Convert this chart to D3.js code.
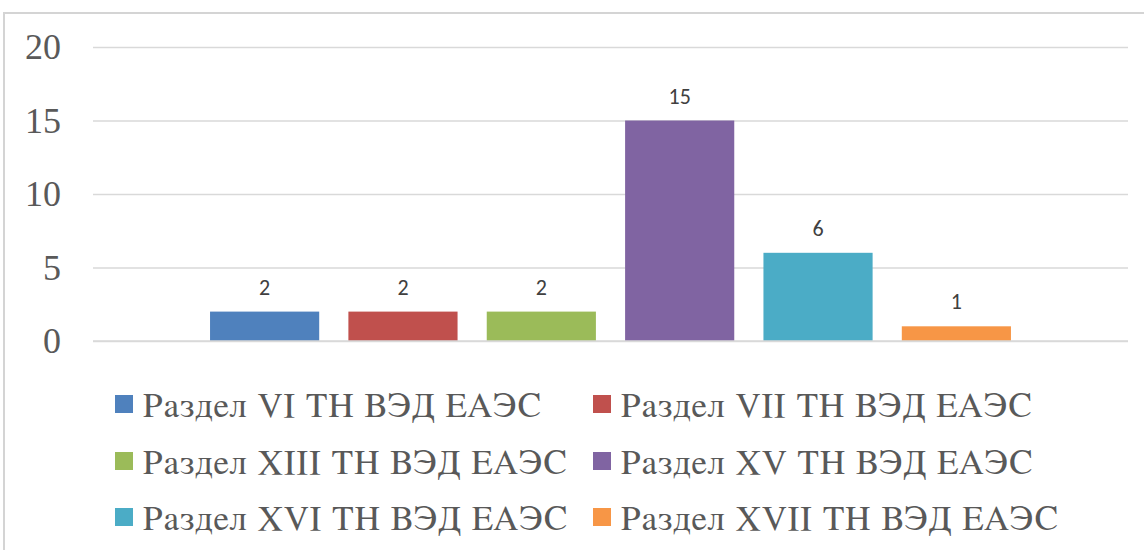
<!DOCTYPE html>
<html>
<head>
<meta charset="utf-8">
<script src="https://cdn.jsdelivr.net/npm/d3@7"></script>
<style>
  html, body { margin: 0; padding: 0; background: #fff; }
  svg { display: block; }
</style>
</head>
<body>
<svg id="chart" width="1144" height="550"></svg>
<script>
const categories = [
  "Раздел VI ТН ВЭД ЕАЭС",
  "Раздел VII ТН ВЭД ЕАЭС",
  "Раздел XIII ТН ВЭД ЕАЭС",
  "Раздел XV ТН ВЭД ЕАЭС",
  "Раздел XVI ТН ВЭД ЕАЭС",
  "Раздел XVII ТН ВЭД ЕАЭС"
];
const values = [2, 2, 2, 15, 6, 1];
const colors = ["#4F81BD", "#C0504D", "#9BBB59", "#8064A2", "#4BACC6", "#F79646"];
const yTicks = [0, 5, 10, 15, 20];

const svg = d3.select("#chart");

// chart border
svg.append("rect")
  .attr("x", 4).attr("y", 13)
  .attr("width", 1200).attr("height", 600)
  .attr("fill", "none")
  .attr("stroke", "#d4d4d4")
  .attr("stroke-width", 2);

const plotLeft = 93, plotRight = 1128;
const y = d3.scaleLinear().domain([0, 20]).range([341, 47]);
const x = d3.scaleBand().domain(categories).range([plotLeft, plotRight])
  .paddingInner(0.211).paddingOuter(0.846);

// gridlines + tick labels
const yAxis = d3.axisLeft(y).tickValues(yTicks).tickSize(-(plotRight - plotLeft)).tickPadding(32);
const gy = svg.append("g").attr("transform", `translate(${plotLeft},0)`).call(yAxis);
gy.select(".domain").remove();
gy.selectAll(".tick line").attr("stroke", "#d9d9d9").attr("stroke-width", 1.6);
gy.selectAll(".tick text")
  .attr("font-family", "'Liberation Serif', 'Times New Roman', serif")
  .attr("font-size", 36)
  .attr("fill", "#595959");

// bars
svg.append("g").selectAll("rect").data(categories).join("rect")
  .attr("x", d => x(d))
  .attr("width", x.bandwidth())
  .attr("y", (d, i) => y(values[i]))
  .attr("height", (d, i) => y(0) - y(values[i]))
  .attr("fill", (d, i) => colors[i]);

// baseline on top
svg.append("line")
  .attr("x1", plotLeft).attr("x2", plotRight)
  .attr("y1", y(0)).attr("y2", y(0))
  .attr("stroke", "#d9d9d9").attr("stroke-width", 1.6);

// value labels
svg.append("g").selectAll("text").data(categories).join("text")
  .attr("x", d => x(d) + x.bandwidth() / 2)
  .attr("y", (d, i) => y(values[i]) - 17)
  .attr("text-anchor", "middle")
  .attr("font-family", "Carlito, 'Open Sans', 'Liberation Sans', sans-serif")
  .attr("font-size", 22)
  .attr("fill", "#404040")
  .text((d, i) => values[i]);

// legend
const legendCols = [115, 593];
const legendRows = [404, 461, 517];
const lg = svg.append("g").selectAll("g").data(categories).join("g")
  .attr("transform", (d, i) => `translate(${legendCols[i % 2]},${legendRows[Math.floor(i / 2)]})`);
lg.append("rect")
  .attr("x", 0).attr("y", -9).attr("width", 18).attr("height", 18)
  .attr("fill", (d, i) => colors[i]);
lg.append("text")
  .attr("x", 28).attr("y", 13)
  .attr("font-family", "FreeSerif, 'Liberation Serif', serif")
  .attr("font-size", 35)
  .attr("letter-spacing", 1.2)
  .attr("fill", "#595959")
  .text(d => d);
</script>
</body>
</html>
